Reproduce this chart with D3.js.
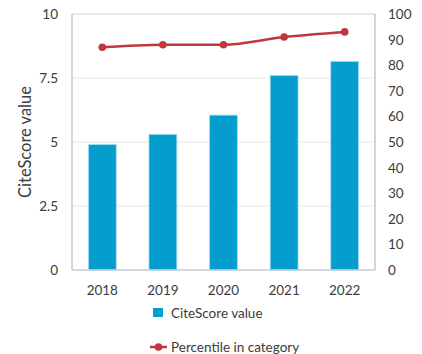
<!DOCTYPE html>
<html lang="en">
<head>
    <meta charset="UTF-8">
    <script src="https://d3js.org/d3.v7.min.js"></script>
    <style>
        body { margin: 0; background: #fff; }
        text { font-family: Lato, "Open Sans", sans-serif; fill: #3c3c3c; }
    </style>
</head>
<body>
    <svg width="422" height="354"></svg>

    <script>
        let years = ["2018", "2019", "2020", "2021", "2022"];
        let citeScore = [4.9, 5.3, 6.05, 7.6, 8.15];
        let percentile = [87, 88, 88, 91, 93];
        let leftTicks = [0, 2.5, 5, 7.5, 10];
        let rightTicks = [0, 10, 20, 30, 40, 50, 60, 70, 80, 90, 100];

        let svg = d3.select("svg");
        let plotLeft = 72, plotRight = 375, plotTop = 14, plotBottom = 270;

        let x = d3.scaleBand().domain(years).range([plotLeft, plotRight])
            .paddingInner(0.54).paddingOuter(0.27);
        let yL = d3.scaleLinear().domain([0, 10]).range([plotBottom, plotTop]);
        let yR = d3.scaleLinear().domain([0, 100]).range([plotBottom, plotTop]);

        // gridlines
        svg.append("g").selectAll("line")
            .data(leftTicks.filter(d => d > 0 && d < 10))
            .enter().append("line")
            .attr("x1", plotLeft).attr("x2", plotRight)
            .attr("y1", d => yL(d)).attr("y2", d => yL(d))
            .attr("stroke", "#e6e6e6").attr("stroke-width", 1);

        // bars
        svg.append("g").selectAll("rect")
            .data(citeScore)
            .enter().append("rect")
            .attr("x", (d, i) => x(years[i]))
            .attr("y", d => yL(d))
            .attr("width", x.bandwidth())
            .attr("height", d => plotBottom - yL(d))
            .attr("fill", "#039ece")
            .attr("stroke", "#a9dcef")
            .attr("stroke-width", 0.8);

        // frame
        svg.append("line").attr("x1", plotLeft).attr("x2", plotRight).attr("y1", plotTop).attr("y2", plotTop)
            .attr("stroke", "#d0d0d0");
        svg.append("line").attr("x1", plotLeft).attr("x2", plotLeft).attr("y1", plotTop).attr("y2", plotBottom)
            .attr("stroke", "#c8c8c8").attr("stroke-width", 1.5);
        svg.append("line").attr("x1", plotRight).attr("x2", plotRight).attr("y1", plotTop).attr("y2", plotBottom)
            .attr("stroke", "#c8c8c8").attr("stroke-width", 1.5);
        svg.append("line").attr("x1", plotLeft).attr("x2", plotRight).attr("y1", plotBottom).attr("y2", plotBottom)
            .attr("stroke", "#c3cbdb").attr("stroke-width", 1.5);

        // percentile line
        let line = d3.line()
            .x((d, i) => x(years[i]) + x.bandwidth() / 2)
            .y(d => yR(d))
            .curve(d3.curveMonotoneX);
        svg.append("path").datum(percentile)
            .attr("d", line)
            .attr("fill", "none")
            .attr("stroke", "#c0373d")
            .attr("stroke-width", 2.5);
        svg.append("g").selectAll("circle")
            .data(percentile)
            .enter().append("circle")
            .attr("cx", (d, i) => x(years[i]) + x.bandwidth() / 2)
            .attr("cy", d => yR(d))
            .attr("r", 3.8)
            .attr("fill", "#c0373d");

        // axes labels
        svg.append("g").selectAll("text")
            .data(leftTicks).enter().append("text")
            .attr("x", 58).attr("y", d => yL(d) + 5)
            .attr("text-anchor", "end").attr("font-size", 13.5)
            .text(d => d);
        svg.append("g").selectAll("text")
            .data(rightTicks).enter().append("text")
            .attr("x", 388).attr("y", d => yR(d) + 5)
            .attr("font-size", 13.5)
            .text(d => d);
        svg.append("g").selectAll("text")
            .data(years).enter().append("text")
            .attr("x", d => x(d) + x.bandwidth() / 2).attr("y", 295)
            .attr("text-anchor", "middle").attr("font-size", 13.5)
            .text(d => d);

        svg.append("text")
            .attr("transform", "translate(31," + ((plotTop + plotBottom) / 2) + ") rotate(-90)")
            .attr("text-anchor", "middle").attr("font-size", 16.5)
            .text("CiteScore value");

        // legend
        svg.append("rect").attr("x", 153).attr("y", 308).attr("width", 10).attr("height", 9)
            .attr("fill", "#039ece");
        svg.append("text").attr("x", 171).attr("y", 318).attr("font-size", 13.5)
            .text("CiteScore value");
        svg.append("line").attr("x1", 150).attr("x2", 167).attr("y1", 347).attr("y2", 347)
            .attr("stroke", "#c0373d").attr("stroke-width", 2.5);
        svg.append("circle").attr("cx", 158.5).attr("cy", 347).attr("r", 3.8).attr("fill", "#c0373d");
        svg.append("text").attr("x", 171).attr("y", 351.5).attr("font-size", 13.5)
            .text("Percentile in category");
    </script>
</body>
</html>
